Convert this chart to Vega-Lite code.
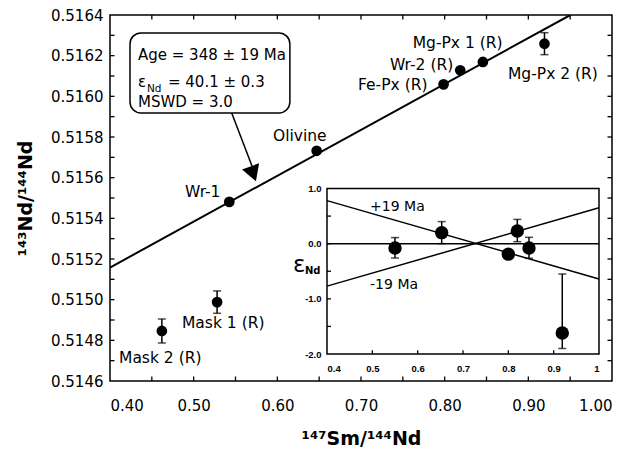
{
  "$schema": "https://vega.github.io/schema/vega-lite/v6.json",
  "width": 502,
  "height": 366,
  "autosize": "none",
  "padding": {"left": 110, "top": 15, "right": 32, "bottom": 72},
  "background": "white",
  "config": {
    "view": {"stroke": "black", "strokeWidth": 1.5},
    "font": "DejaVu Sans"
  },
  "datasets": {
    "main": [
      {"name": "Mask 2 (R)", "x": 0.462, "y": 0.514846, "err": 0.000059, "lx": 0.41076, "ly": 0.514713},
      {"name": "Mask 1 (R)", "x": 0.528, "y": 0.514988, "err": 0.000055, "lx": 0.48605, "ly": 0.514885},
      {"name": "Wr-1", "x": 0.5426, "y": 0.515481, "err": 0, "lx": 0.48964, "ly": 0.515529},
      {"name": "Olivine", "x": 0.647, "y": 0.515732, "err": 0, "lx": 0.59481, "ly": 0.515805},
      {"name": "Fe-Px (R)", "x": 0.7987, "y": 0.516059, "err": 0, "lx": 0.6964, "ly": 0.516056},
      {"name": "Wr-2 (R)", "x": 0.8186, "y": 0.516128, "err": 0, "lx": 0.73465, "ly": 0.516154},
      {"name": "Mg-Px 1 (R)", "x": 0.8457, "y": 0.516169, "err": 0, "lx": 0.76178, "ly": 0.516264},
      {"name": "Mg-Px 2 (R)", "x": 0.9193, "y": 0.516259, "err": 0.000054, "lx": 0.87568, "ly": 0.51611}
    ],
    "reg": [
      {"x": 0.40, "y": 0.515158},
      {"x": 0.9502, "y": 0.5164}
    ],
    "xt": [
      {"v": 0.45}, {"v": 0.5}, {"v": 0.55}, {"v": 0.6}, {"v": 0.65}, {"v": 0.7}, {"v": 0.75},
      {"v": 0.8}, {"v": 0.85}, {"v": 0.9}, {"v": 0.95}
    ],
    "yt": [
      {"v": 0.5147}, {"v": 0.5148}, {"v": 0.5149}, {"v": 0.515}, {"v": 0.5151}, {"v": 0.5152},
      {"v": 0.5153}, {"v": 0.5154}, {"v": 0.5155}, {"v": 0.5156}, {"v": 0.5157}, {"v": 0.5158},
      {"v": 0.5159}, {"v": 0.516}, {"v": 0.5161}, {"v": 0.5162}, {"v": 0.5163}
    ],
    "box": [
      {"x": 0.4239, "x2": 0.615, "y": 0.515918, "y2": 0.516312}
    ],
    "boxtext": [
      {"part": "plain", "text": "Age = 348 ± 19 Ma", "x": 0.43345, "y": 0.516203},
      {"part": "plain", "text": "ε", "x": 0.43345, "y": 0.516071},
      {"part": "sub", "text": "Nd", "x": 0.43345, "y": 0.516071},
      {"part": "val", "text": "= 40.1 ± 0.3", "x": 0.43345, "y": 0.516071},
      {"part": "plain", "text": "MSWD = 3.0", "x": 0.43345, "y": 0.515972}
    ],
    "arrow": [
      {"x": 0.54545, "y": 0.515918, "x2": 0.56971, "y2": 0.515657, "hx": 0.5712, "hy": 0.5156192}
    ],
    "eps": [
      {"x": 0.55, "y": -0.08, "lo": -0.26, "hi": 0.11},
      {"x": 0.653, "y": 0.2, "lo": 0.0, "hi": 0.4},
      {"x": 0.80, "y": -0.19, "lo": null, "hi": null},
      {"x": 0.8198, "y": 0.23, "lo": 0.036, "hi": 0.44},
      {"x": 0.8456, "y": -0.08, "lo": -0.265, "hi": 0.115},
      {"x": 0.919, "y": -1.62, "lo": -1.9, "hi": -0.55}
    ],
    "ixt": [{"v": 0.5}, {"v": 0.6}, {"v": 0.7}, {"v": 0.8}, {"v": 0.9}],
    "iyt": [{"v": -1.5}, {"v": -1}, {"v": -0.5}, {"v": 0}, {"v": 0.5}],
    "ilines": [
      {"g": "plus", "x": 0.4, "y": 0.78},
      {"g": "plus", "x": 1.0, "y": -0.64},
      {"g": "minus", "x": 0.4, "y": -0.77},
      {"g": "minus", "x": 1.0, "y": 0.65},
      {"g": "zero", "x": 0.4, "y": 0},
      {"g": "zero", "x": 1.0, "y": 0}
    ],
    "ilabels": [
      {"t": "+19 Ma", "x": 0.495, "y": 0.665},
      {"t": "-19 Ma", "x": 0.495, "y": -0.75}
    ],
    "ieps": [
      {"part": "main", "t": "ε", "x": 0.325, "y": -0.38},
      {"part": "sub", "t": "Nd", "x": 0.325, "y": -0.38}
    ]
  },
  "layer": [
    {
      "layer": [
        {
          "data": {"name": "reg"},
          "mark": {"type": "line", "color": "black", "strokeWidth": 2, "clip": true},
          "encoding": {
            "x": {"field": "x", "type": "quantitative", "title": "¹⁴⁷Sm/¹⁴⁴Nd",
              "scale": {"domain": [0.4, 1.0], "nice": false, "zero": false},
              "axis": {"orient": "bottom", "grid": false, "domain": false, "ticks": false, "labelColor": "black", "titleColor": "black", "labelOverlap": false,
                "title": "¹⁴⁷Sm/¹⁴⁴Nd", "titleFont": "DejaVu Sans", "titleFontSize": 19, "titleFontWeight": "bold", "titlePadding": 16,
                "values": [0.4, 0.5, 0.6, 0.7, 0.8, 0.9, 1.0],
                "labelExpr": "format(datum.value, '.2f')",
                "labelFontSize": 15, "labelPadding": 17}},
            "y": {"field": "y", "type": "quantitative", "title": "¹⁴³Nd/¹⁴⁴Nd",
              "scale": {"domain": [0.5146, 0.5164], "nice": false, "zero": false},
              "axis": {"orient": "left", "grid": false, "domain": false, "ticks": false, "labelColor": "black", "titleColor": "black", "labelOverlap": false,
                "title": "¹⁴³Nd/¹⁴⁴Nd", "titleFont": "DejaVu Sans", "titleFontSize": 19, "titleFontWeight": "bold", "titlePadding": 15,
                "values": [0.5146, 0.5148, 0.515, 0.5152, 0.5154, 0.5156, 0.5158, 0.516, 0.5162, 0.5164],
                "labelExpr": "format(datum.value, '.4f')",
                "labelFontSize": 15, "labelPadding": 7}}
          }
        },
        {
          "data": {"name": "xt"},
          "mark": {"type": "tick", "orient": "vertical", "size": 9, "thickness": 1.3, "color": "black", "opacity": 1, "clip": true},
          "encoding": {
            "x": {"field": "v", "type": "quantitative", "title": "¹⁴⁷Sm/¹⁴⁴Nd"},
            "y": {"datum": 0.5146, "type": "quantitative"}
          }
        },
        {
          "data": {"name": "xt"},
          "mark": {"type": "tick", "orient": "vertical", "size": 9, "thickness": 1.3, "color": "black", "opacity": 1, "clip": true},
          "encoding": {
            "x": {"field": "v", "type": "quantitative", "title": "¹⁴⁷Sm/¹⁴⁴Nd"},
            "y": {"datum": 0.5164, "type": "quantitative"}
          }
        },
        {
          "data": {"name": "yt"},
          "mark": {"type": "tick", "orient": "horizontal", "size": 9, "thickness": 1.3, "color": "black", "opacity": 1, "clip": true},
          "encoding": {
            "y": {"field": "v", "type": "quantitative", "title": "¹⁴³Nd/¹⁴⁴Nd"},
            "x": {"datum": 0.4, "type": "quantitative"}
          }
        },
        {
          "data": {"name": "yt"},
          "mark": {"type": "tick", "orient": "horizontal", "size": 9, "thickness": 1.3, "color": "black", "opacity": 1, "clip": true},
          "encoding": {
            "y": {"field": "v", "type": "quantitative", "title": "¹⁴³Nd/¹⁴⁴Nd"},
            "x": {"datum": 1.0, "type": "quantitative"}
          }
        },
        {
          "data": {"name": "main"},
          "transform": [{"filter": "datum.err > 0"}],
          "mark": {"type": "errorbar", "ticks": true, "size": 8, "thickness": 1.5, "color": "black"},
          "encoding": {
            "x": {"field": "x", "type": "quantitative", "title": "¹⁴⁷Sm/¹⁴⁴Nd"},
            "y": {"field": "y", "type": "quantitative", "title": "¹⁴³Nd/¹⁴⁴Nd"},
            "yError": {"field": "err"}
          }
        },
        {
          "data": {"name": "main"},
          "mark": {"type": "point", "shape": "circle", "filled": true, "color": "black", "size": 115, "opacity": 1},
          "encoding": {
            "x": {"field": "x", "type": "quantitative", "title": "¹⁴⁷Sm/¹⁴⁴Nd"},
            "y": {"field": "y", "type": "quantitative", "title": "¹⁴³Nd/¹⁴⁴Nd"}
          }
        },
        {
          "data": {"name": "main"},
          "mark": {"type": "text", "align": "left", "baseline": "middle", "fontSize": 15.5, "color": "black"},
          "encoding": {
            "x": {"field": "lx", "type": "quantitative", "title": "¹⁴⁷Sm/¹⁴⁴Nd"},
            "y": {"field": "ly", "type": "quantitative", "title": "¹⁴³Nd/¹⁴⁴Nd"},
            "text": {"field": "name"}
          }
        },
        {
          "data": {"name": "box"},
          "mark": {"type": "rect", "fill": "white", "stroke": "black", "strokeWidth": 1.5, "cornerRadius": 11},
          "encoding": {
            "x": {"field": "x", "type": "quantitative", "title": "¹⁴⁷Sm/¹⁴⁴Nd"},
            "x2": {"field": "x2"},
            "y": {"field": "y", "type": "quantitative", "title": "¹⁴³Nd/¹⁴⁴Nd"},
            "y2": {"field": "y2"}
          }
        },
        {
          "data": {"name": "boxtext"},
          "transform": [{"filter": "datum.part == 'plain'"}],
          "mark": {"type": "text", "align": "left", "baseline": "middle", "fontSize": 15, "color": "black"},
          "encoding": {
            "x": {"field": "x", "type": "quantitative", "title": "¹⁴⁷Sm/¹⁴⁴Nd"},
            "y": {"field": "y", "type": "quantitative", "title": "¹⁴³Nd/¹⁴⁴Nd"},
            "text": {"field": "text"}
          }
        },
        {
          "data": {"name": "boxtext"},
          "transform": [{"filter": "datum.part == 'sub'"}],
          "mark": {"type": "text", "align": "left", "baseline": "middle", "fontSize": 10.5, "dx": 9, "dy": 7, "color": "black"},
          "encoding": {
            "x": {"field": "x", "type": "quantitative", "title": "¹⁴⁷Sm/¹⁴⁴Nd"},
            "y": {"field": "y", "type": "quantitative", "title": "¹⁴³Nd/¹⁴⁴Nd"},
            "text": {"field": "text"}
          }
        },
        {
          "data": {"name": "boxtext"},
          "transform": [{"filter": "datum.part == 'val'"}],
          "mark": {"type": "text", "align": "left", "baseline": "middle", "fontSize": 15, "dx": 30, "color": "black"},
          "encoding": {
            "x": {"field": "x", "type": "quantitative", "title": "¹⁴⁷Sm/¹⁴⁴Nd"},
            "y": {"field": "y", "type": "quantitative", "title": "¹⁴³Nd/¹⁴⁴Nd"},
            "text": {"field": "text"}
          }
        },
        {
          "data": {"name": "arrow"},
          "mark": {"type": "rule", "color": "black", "strokeWidth": 1.5},
          "encoding": {
            "x": {"field": "x", "type": "quantitative", "title": "¹⁴⁷Sm/¹⁴⁴Nd"},
            "x2": {"field": "x2"},
            "y": {"field": "y", "type": "quantitative", "title": "¹⁴³Nd/¹⁴⁴Nd"},
            "y2": {"field": "y2"}
          }
        },
        {
          "data": {"name": "arrow"},
          "mark": {"type": "point", "shape": "triangle-down", "filled": true, "color": "black", "opacity": 1, "size": 330, "angle": -20},
          "encoding": {
            "x": {"field": "hx", "type": "quantitative", "title": "¹⁴⁷Sm/¹⁴⁴Nd"},
            "y": {"field": "hy", "type": "quantitative", "title": "¹⁴³Nd/¹⁴⁴Nd"}
          }
        }
      ]
    },
    {
      "layer": [
        {
          "data": {"values": [{}]},
          "mark": {"type": "rect", "fill": "white", "stroke": "black", "strokeWidth": 1.5},
          "encoding": {
            "x": {"datum": 0.4, "type": "quantitative",
              "scale": {"domain": [0.4, 1.0], "range": [217, 489], "nice": false, "zero": false},
              "axis": {"orient": "bottom", "offset": -27, "grid": false, "domain": false, "ticks": false, "labelColor": "black", "zindex": 1, "title": null, "values": [0.4, 0.5, 0.6, 0.7, 0.8, 0.9, 1.0],
                "labelExpr": "datum.value == 1 ? '1' : format(datum.value, '.1f')",
                "labelFont": "Liberation Sans", "labelFontWeight": "bold", "labelFontSize": 9.5, "labelPadding": 9}},
            "x2": {"datum": 1.0},
            "y": {"datum": -2, "type": "quantitative",
              "scale": {"domain": [-2, 1], "range": [339, 173.5], "nice": false, "zero": false},
              "axis": {"orient": "left", "offset": -217, "grid": false, "domain": false, "ticks": false, "labelColor": "black", "zindex": 1, "title": null, "values": [-2, -1, 0, 1],
                "labelExpr": "datum.value < 0 ? '-' + format(-datum.value, '.1f') : format(datum.value, '.1f')",
                "labelFont": "Liberation Sans", "labelFontWeight": "bold", "labelFontSize": 9.5, "labelPadding": 6}},
            "y2": {"datum": 1}
          }
        },
        {
          "data": {"name": "ixt"},
          "mark": {"type": "rule", "color": "black", "strokeWidth": 1.3},
          "encoding": {
            "x": {"field": "v", "type": "quantitative"},
            "y": {"datum": -2, "type": "quantitative"},
            "y2": {"datum": -1.93}
          }
        },
        {
          "data": {"name": "iyt"},
          "mark": {"type": "rule", "color": "black", "strokeWidth": 1.3},
          "encoding": {
            "y": {"field": "v", "type": "quantitative"},
            "x": {"datum": 0.4, "type": "quantitative"},
            "x2": {"datum": 0.4088}
          }
        },
        {
          "data": {"name": "ilines"},
          "mark": {"type": "line", "color": "black", "strokeWidth": 1.5},
          "encoding": {
            "x": {"field": "x", "type": "quantitative"},
            "y": {"field": "y", "type": "quantitative"},
            "detail": {"field": "g"}
          }
        },
        {
          "data": {"name": "eps"},
          "transform": [{"filter": "datum.lo != null"}],
          "mark": {"type": "errorbar", "ticks": true, "size": 8, "thickness": 1.5, "color": "black"},
          "encoding": {
            "x": {"field": "x", "type": "quantitative"},
            "y": {"field": "lo", "type": "quantitative"},
            "y2": {"field": "hi"}
          }
        },
        {
          "data": {"name": "eps"},
          "mark": {"type": "point", "shape": "circle", "filled": true, "color": "black", "size": 180, "opacity": 1},
          "encoding": {
            "x": {"field": "x", "type": "quantitative"},
            "y": {"field": "y", "type": "quantitative"}
          }
        },
        {
          "data": {"name": "ilabels"},
          "mark": {"type": "text", "align": "left", "baseline": "middle", "fontSize": 14, "color": "black"},
          "encoding": {
            "x": {"field": "x", "type": "quantitative"},
            "y": {"field": "y", "type": "quantitative"},
            "text": {"field": "t"}
          }
        },
        {
          "data": {"name": "ieps"},
          "transform": [{"filter": "datum.part == 'main'"}],
          "mark": {"type": "text", "align": "left", "baseline": "middle", "fontSize": 23, "color": "black"},
          "encoding": {
            "x": {"field": "x", "type": "quantitative"},
            "y": {"field": "y", "type": "quantitative"},
            "text": {"field": "t"}
          }
        },
        {
          "data": {"name": "ieps"},
          "transform": [{"filter": "datum.part == 'sub'"}],
          "mark": {"type": "text", "align": "left", "baseline": "middle", "fontSize": 10, "fontWeight": "bold", "dx": 12, "dy": 6, "color": "black"},
          "encoding": {
            "x": {"field": "x", "type": "quantitative"},
            "y": {"field": "y", "type": "quantitative"},
            "text": {"field": "t"}
          }
        }
      ]
    }
  ],
  "resolve": {
    "scale": {"x": "independent", "y": "independent"},
    "axis": {"x": "independent", "y": "independent"}
  }
}
